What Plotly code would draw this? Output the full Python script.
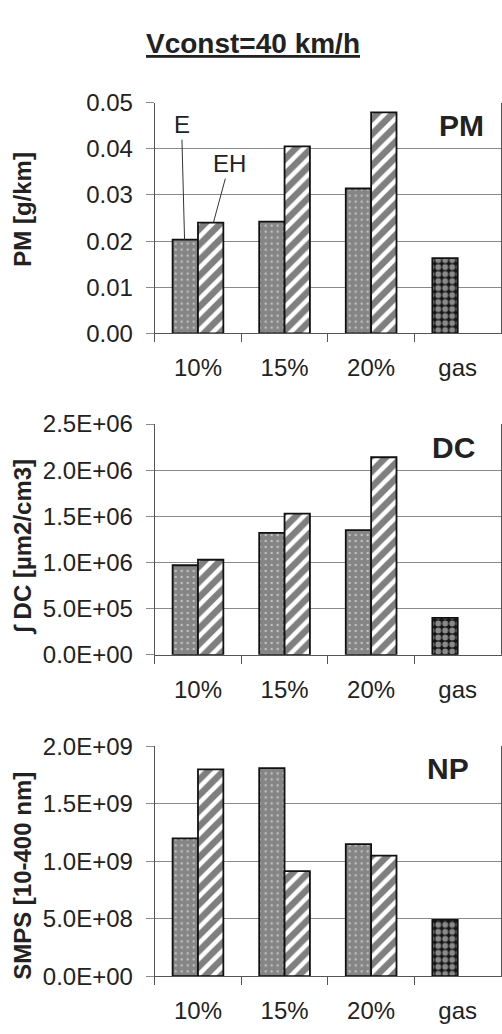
import plotly.graph_objects as go

# ---------------- data ----------------
categories = ["10%", "15%", "20%", "gas"]

pm_e = [0.0203, 0.0242, 0.0314, 0.0163]
pm_eh = [0.0240, 0.0405, 0.0479, None]

dc_e = [0.97e6, 1.32e6, 1.35e6, 0.40e6]
dc_eh = [1.03e6, 1.53e6, 2.14e6, None]

np_e = [1.20e9, 1.81e9, 1.15e9, 0.49e9]
np_eh = [1.80e9, 0.915e9, 1.05e9, None]

pm_tickvals = [0, 0.01, 0.02, 0.03, 0.04, 0.05]
pm_ticktext = ["0.00", "0.01", "0.02", "0.03", "0.04", "0.05"]
dc_tickvals = [0, 5e5, 1e6, 1.5e6, 2e6, 2.5e6]
dc_ticktext = ["0.0E+00", "5.0E+05", "1.0E+06", "1.5E+06", "2.0E+06", "2.5E+06"]
np_tickvals = [0, 5e8, 1e9, 1.5e9, 2e9]
np_ticktext = ["0.0E+00", "5.0E+08", "1.0E+09", "1.5E+09", "2.0E+09"]

panel_names = ["PM", "DC", "NP"]
y_titles = ["PM [g/km]", "∫ DC [µm2/cm3]", "SMPS [10-400 nm]"]
main_title = "Vconst=40 km/h"

# ---------------- layout constants ----------------
W, H = 502, 1034
FONT = "Liberation Sans, Arial, sans-serif"
TXT = "#222222"
GRID = "#8a8a8a"
AXIS = "#555555"


def px_x(x):
    return x / W


def px_y(y):
    return 1 - y / H


panels_px = [(91, 328), (421, 658), (752, 988)]
x_left = px_x(155)

series = [
    (pm_e, pm_eh, pm_tickvals, pm_ticktext),
    (dc_e, dc_eh, dc_tickvals, dc_ticktext),
    (np_e, np_eh, np_tickvals, np_ticktext),
]

e_pattern = dict(
    shape=[".", ".", ".", "."],
    bgcolor=["#858585", "#858585", "#858585", "#151515"],
    fgcolor=["white", "white", "white", "white"],
    size=[6, 6, 6, 7],
    solidity=[0.12, 0.12, 0.12, 0.55],
)
eh_pattern = dict(shape="/", bgcolor="white", fgcolor="black", size=11, solidity=0.6)

fig = go.Figure()
layout = dict(
    width=W, height=H,
    margin=dict(l=0, r=0, t=0, b=0),
    paper_bgcolor="white", plot_bgcolor="white",
    showlegend=False,
    barmode="group", bargap=0.414, bargroupgap=0,
    font=dict(family=FONT, color=TXT, size=24),
    annotations=[],
)

for i, (e_vals, eh_vals, tv, tt) in enumerate(series):
    sfx = "" if i == 0 else str(i + 1)
    top, bot = panels_px[i]
    fig.add_trace(go.Bar(
        x=categories, y=e_vals, name="E",
        xaxis="x" + sfx, yaxis="y" + sfx,
        marker=dict(color="#858585", pattern=e_pattern,
                    line=dict(color="#111111", width=1.8)),
    ))
    fig.add_trace(go.Bar(
        x=categories, y=eh_vals, name="EH",
        xaxis="x" + sfx, yaxis="y" + sfx,
        marker=dict(color="white", pattern=eh_pattern,
                    line=dict(color="#111111", width=1.8)),
    ))
    layout["xaxis" + sfx] = dict(
        domain=[x_left, 1.0], anchor="y" + sfx,
        type="category", categoryorder="array", categoryarray=categories,
        showline=True, linecolor=AXIS, linewidth=1,
        ticks="outside", tickson="boundaries", ticklen=8, tickcolor=AXIS,
        showgrid=False, ticklabelstandoff=13,
        tickfont=dict(size=24, color=TXT),
        fixedrange=True,
    )
    layout["yaxis" + sfx] = dict(
        domain=[px_y(bot), px_y(top)], anchor="x" + sfx,
        range=[0, tv[-1]], tickvals=tv, ticktext=tt,
        showline=True, linecolor=AXIS, linewidth=1, mirror=True,
        showgrid=True, gridcolor=GRID, gridwidth=1,
        ticks="outside", ticklen=8, tickcolor=GRID,
        ticklabelstandoff=8,
        tickfont=dict(size=24, color=TXT),
        zeroline=False, fixedrange=True,
    )

# panel labels (right edge and vertical centre in px)
label_px = [(487, 115), (478, 445), (472, 775)]
for i, name in enumerate(panel_names):
    layout["annotations"].append(dict(
        text="<b>%s</b>" % name, xref="paper", yref="paper",
        x=px_x(label_px[i][0]), y=px_y(label_px[i][1]), xanchor="right", yanchor="middle",
        showarrow=False, font=dict(size=30, color=TXT, family=FONT),
    ))

# y-axis titles
ytitle_centers = [200, 547, 885]
for i, t in enumerate(y_titles):
    layout["annotations"].append(dict(
        text="<b>%s</b>" % t, xref="paper", yref="paper",
        x=px_x(23), y=px_y(ytitle_centers[i]), xanchor="center", yanchor="middle",
        textangle=-90, showarrow=False, font=dict(size=24, color=TXT, family=FONT),
    ))

# E / EH leader labels (first panel)
layout["annotations"].append(dict(
    text="E", xref="x", yref="y", x=-0.155, y=pm_e[0],
    ax=-3, ay=-115, showarrow=True, arrowhead=0, arrowwidth=1, arrowcolor="#333333",
    font=dict(size=24, color=TXT, family=FONT),
))
layout["annotations"].append(dict(
    text="EH", xref="x", yref="y", x=0.178, y=pm_eh[0],
    ax=16, ay=-59, showarrow=True, arrowhead=0, arrowwidth=1, arrowcolor="#333333",
    font=dict(size=24, color=TXT, family=FONT),
))

# main title
layout["annotations"].append(dict(
    text="<b>%s</b>" % main_title, xref="paper", yref="paper",
    x=px_x(254), y=px_y(30), xanchor="center", yanchor="middle", showarrow=False,
    font=dict(size=28, color=TXT, family=FONT, lineposition="under"),
))

fig.update_layout(**layout)
fig.write_html("out.html",
               config={"displayModeBar": False},
               post_script="document.body.style.margin='0';"
                           "document.documentElement.style.overflow='hidden';")
